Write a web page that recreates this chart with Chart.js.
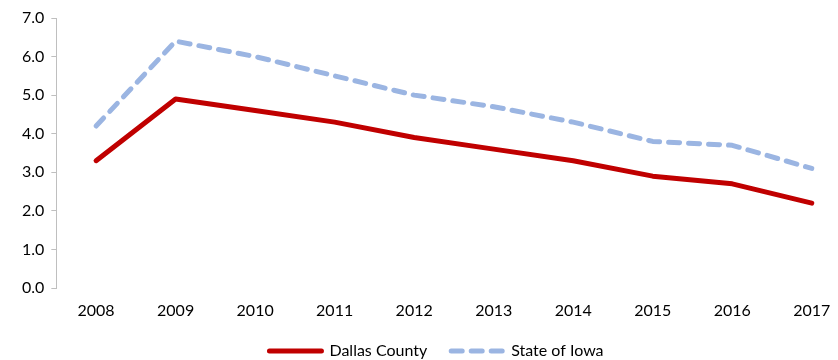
<!DOCTYPE html>
<html>
<head>
<meta charset="utf-8">
<script src="https://cdn.jsdelivr.net/npm/chart.js@4/dist/chart.umd.min.js"></script>
<style>
  html, body { margin: 0; padding: 0; background: #fff; }
  #wrap { width: 838px; height: 360px; position: relative; }
</style>
</head>
<body>
<div id="wrap"><canvas id="rateChart"></canvas></div>
<script>
// unemployment rate, annual averages
const years = [2008, 2009, 2010, 2011, 2012, 2013, 2014, 2015, 2016, 2017];
const dallasCounty = [3.3, 4.9, 4.6, 4.3, 3.9, 3.6, 3.3, 2.9, 2.7, 2.2];
const stateOfIowa = [4.2, 6.4, 6.0, 5.5, 5.0, 4.7, 4.3, 3.8, 3.7, 3.1];
const yTicks = [0, 1, 2, 3, 4, 5, 6, 7];

const toPoints = (vals) => vals.map((v, i) => ({ x: years[i], y: v }));

const FONT = { family: 'Lato, "Liberation Sans", sans-serif', size: 16 };
Chart.defaults.font = FONT;
Chart.defaults.color = '#000';

// legend swatches: take dash/width straight from the dataset line
const legendLabels = (chart) => {
  const items = Chart.defaults.plugins.legend.labels.generateLabels(chart);
  items.forEach(item => {
    const ds = chart.data.datasets[item.datasetIndex];
    item.lineDash = ds.borderDash || [];
    item.lineCap = 'round';
    item.lineWidth = ds.borderWidth;
    item.strokeStyle = ds.borderColor;
    item.fillStyle = ds.borderColor;
  });
  return items;
};

// wide gaps between legend items, but keep the legend band short,
// and centre it a little to the right (under the plot rather than the canvas)
const LEGEND_HEIGHT = 41;
const LEGEND_SHIFT = 20;
const legendHeightPlugin = {
  id: 'legendHeight',
  beforeUpdate(chart) {
    const legend = chart.legend;
    if (!legend || legend._fitPatched) return;
    const fit = legend.fit;
    legend.fit = function() {
      fit.call(this);
      this.height = LEGEND_HEIGHT;
    };
    legend._fitPatched = true;
  },
  afterLayout(chart) {
    if (chart.legend) chart.legend.left += LEGEND_SHIFT;
  }
};

const ctx = document.getElementById('rateChart').getContext('2d');
new Chart(ctx, {
  type: 'line',
  data: {
    datasets: [
      {
        label: 'Dallas County',
        data: toPoints(dallasCounty),
        borderColor: '#C00000',
        backgroundColor: '#C00000',
        borderWidth: 5,
        borderCapStyle: 'round',
        borderJoinStyle: 'round',
        pointRadius: 0,
        tension: 0
      },
      {
        label: 'State of Iowa',
        data: toPoints(stateOfIowa),
        borderColor: '#9BB5E2',
        backgroundColor: '#9BB5E2',
        borderWidth: 5,
        borderDash: [11, 9],
        borderCapStyle: 'round',
        borderJoinStyle: 'round',
        pointRadius: 0,
        tension: 0
      }
    ]
  },
  options: {
    responsive: true,
    maintainAspectRatio: false,
    animation: false,
    layout: { padding: { top: 18, right: 0, left: 15, bottom: 0 } },
    plugins: {
      tooltip: { enabled: false },
      legend: {
        position: 'bottom',
        labels: {
          usePointStyle: true,
          pointStyle: 'line',
          pointStyleWidth: 52,
          boxWidth: 52,
          boxHeight: 10,
          padding: 24,
          font: FONT,
          color: '#000',
          generateLabels: legendLabels
        }
      }
    },
    scales: {
      x: {
        type: 'linear',
        min: 2007.5,
        max: 2017.33,
        afterBuildTicks: (axis) => { axis.ticks = years.map(v => ({ value: v })); },
        afterFit: (axis) => {
          axis.height = 31;
          axis.paddingLeft = 0;
          axis.paddingRight = 0;
        },
        ticks: {
          callback: (v) => String(v),
          padding: 13,
          maxRotation: 0,
          autoSkip: false
        },
        grid: { display: false, drawTicks: false },
        border: { display: false }
      },
      y: {
        min: 0,
        max: 7,
        afterBuildTicks: (axis) => { axis.ticks = yTicks.map(v => ({ value: v })); },
        ticks: {
          callback: (v) => v.toFixed(1),
          padding: 7
        },
        grid: {
          drawOnChartArea: false,
          drawTicks: true,
          tickLength: 5,
          color: '#BFBFBF'
        },
        border: { display: true, color: '#BFBFBF', width: 1 }
      }
    }
  },
  plugins: [legendHeightPlugin]
});
</script>
</body>
</html>
